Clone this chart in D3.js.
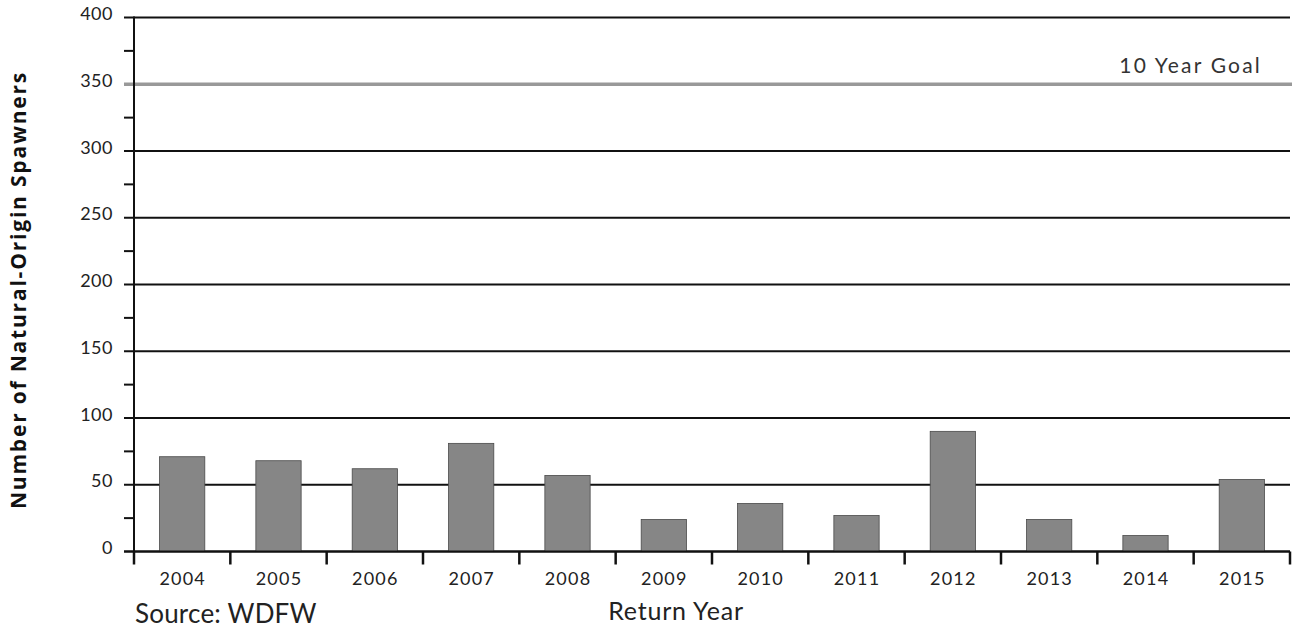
<!DOCTYPE html>
<html><head><meta charset="utf-8">
<script src="https://cdn.jsdelivr.net/npm/d3@7"></script>
<style>
html,body{margin:0;padding:0;background:#fff;}
svg{display:block;}
text{font-family:Lato,"Open Sans",sans-serif;fill:#222;}
</style></head>
<body>
<svg id="chart" width="1302" height="634"></svg>
<script>
const years = ["2004","2005","2006","2007","2008","2009","2010","2011","2012","2013","2014","2015"];
const spawners = [71, 68, 62, 81, 57, 24, 36, 27, 90, 24, 12, 54];
const yTicks = [0, 50, 100, 150, 200, 250, 300, 350, 400];
const yMinorTicks = [25, 75, 125, 175, 225, 275, 325, 375];
const goalValue = 350;
const goalLabel = "10 Year Goal";
const yTitle = "Number of Natural-Origin Spawners";
const xTitle = "Return Year";
const sourceNote = "Source: WDFW";

(function(){
const svg = d3.select("#chart");
const pL = 134, pR = 1290, pT = 17.5, pB = 551.5;

const x = d3.scaleBand().domain(years).range([pL, pR]).paddingInner(0.53).paddingOuter(0.265);
const y = d3.scaleLinear().domain([0, 400]).range([pB, pT]);
const step = x.step();

// gridlines (excluding goal)
svg.append("g").selectAll("line").data(yTicks.filter(d => d !== goalValue)).join("line")
  .attr("x1", pL - 10).attr("x2", pR)
  .attr("y1", d => y(d)).attr("y2", d => y(d))
  .attr("stroke", "#111").attr("stroke-width", 2);

// goal line
svg.append("line")
  .attr("x1", pL - 10).attr("x2", pR + 2)
  .attr("y1", y(goalValue)).attr("y2", y(goalValue))
  .attr("stroke", "#999").attr("stroke-width", 3.5);

// minor ticks
svg.append("g").selectAll("line").data(yMinorTicks).join("line")
  .attr("x1", pL - 10).attr("x2", pL)
  .attr("y1", d => y(d)).attr("y2", d => y(d))
  .attr("stroke", "#111").attr("stroke-width", 2);

// bars
svg.append("g").selectAll("rect").data(years).join("rect")
  .attr("x", d => x(d))
  .attr("width", x.bandwidth())
  .attr("y", (d, i) => y(spawners[i]))
  .attr("height", (d, i) => y(0) - y(spawners[i]))
  .attr("fill", "#868686").attr("stroke", "#4a4a4a").attr("stroke-width", 0.8);

// y axis line
svg.append("line").attr("x1", pL).attr("x2", pL).attr("y1", pT - 1).attr("y2", pB + 1)
  .attr("stroke", "#111").attr("stroke-width", 2);

// baseline
svg.append("line").attr("x1", pL - 10).attr("x2", pR).attr("y1", y(0)).attr("y2", y(0))
  .attr("stroke", "#111").attr("stroke-width", 2);

// x ticks at band boundaries
const bounds = years.map(d => x(d) + x.bandwidth() / 2 - step / 2).concat([pR]);
svg.append("g").selectAll("line").data(bounds).join("line")
  .attr("x1", d => d).attr("x2", d => d)
  .attr("y1", pB).attr("y2", pB + 13)
  .attr("stroke", "#111").attr("stroke-width", 2.5);

// y tick labels
svg.append("g").selectAll("text").data(yTicks).join("text")
  .attr("x", 113).attr("y", d => y(d) - 2)
  .attr("text-anchor", "end").attr("dominant-baseline", "middle")
  .style("font-size", "18px").style("letter-spacing", "0.5px")
  .text(d => d);

// x tick labels
svg.append("g").selectAll("text").data(years).join("text")
  .attr("x", d => x(d) + x.bandwidth() / 2 + 0.5).attr("y", 585)
  .attr("text-anchor", "middle")
  .style("font-size", "18px").style("letter-spacing", "1.2px")
  .text(d => d);

// goal label
svg.append("text").attr("x", 1262).attr("y", 72.5).attr("text-anchor", "end")
  .style("font-size", "21px").style("letter-spacing", "2.2px").style("fill", "#333")
  .text(goalLabel);

// x title
svg.append("text").attr("x", 676).attr("y", 620).attr("text-anchor", "middle")
  .style("font-size", "25px").style("letter-spacing", "0.8px")
  .text(xTitle);

// source
svg.append("text").attr("x", 135).attr("y", 622.5).attr("text-anchor", "start")
  .style("font-size", "26px").style("letter-spacing", "0.2px")
  .text(sourceNote);

// y title
svg.append("text").attr("transform", "translate(26,290) rotate(-90)")
  .attr("text-anchor", "middle")
  .style("font-family", "'Open Sans',Arial,sans-serif")
  .style("font-weight", "bold").style("font-size", "21px").style("letter-spacing", "1.8px")
  .style("fill", "#111")
  .text(yTitle);
})();
</script>
</body></html>
